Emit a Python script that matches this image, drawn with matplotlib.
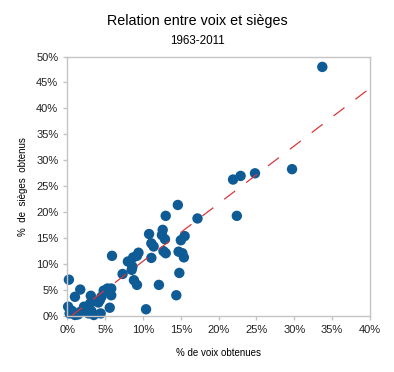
import numpy as np
import matplotlib.pyplot as plt
from matplotlib.ticker import MultipleLocator, FuncFormatter

plt.rcParams['font.family'] = ['Liberation Sans', 'DejaVu Sans']

# % of votes / % of seats
voix = [33.7, 29.7, 21.9, 22.9, 24.8, 22.4,
        14.6, 13.0, 17.2, 12.6, 12.5, 10.8, 11.1, 11.4, 12.9, 15.0, 15.5,
        11.1, 12.7, 13.0, 14.7, 15.2, 15.4, 14.8, 12.1, 14.4, 10.4,
        9.4, 9.2, 8.7, 8.3, 8.6, 8.0, 8.5, 7.3, 8.8, 9.2, 5.9,
        0.2, 1.7, 1.0, 3.1, 4.8, 5.3, 5.8, 5.8, 4.5, 4.3, 3.4, 4.1, 3.0,
        5.6, 4.4, 0.1, 0.3, 1.7, 2.8, 3.5, 1.0, 2.2, 2.5, 3.2, 0.6, 1.4]
sieges = [48.0, 28.3, 26.3, 27.0, 27.5, 19.3,
          21.4, 19.3, 18.8, 16.6, 15.6, 15.8, 14.0, 13.4, 14.8, 14.6, 15.4,
          11.2, 12.5, 12.1, 12.4, 12.1, 11.3, 8.3, 6.0, 4.0, 1.3,
          12.2, 11.6, 11.3, 10.5, 9.5, 10.5, 8.9, 8.1, 6.9, 6.0, 11.6,
          7.0, 5.1, 3.7, 3.9, 4.9, 5.3, 5.3, 4.0, 3.7, 3.1, 3.1, 2.6, 2.4,
          1.6, 0.5, 1.8, 0.5, 0.8, 0.5, 0.2, 0.2, 1.8, 1.2, 0.9, 1.0, 0.3]

# trend line end points
trend_x = [0.5, 40.0]
trend_y = [0.0, 43.9]

fig = plt.figure(figsize=(3.94, 3.72), dpi=100)
ax = fig.add_axes([0.171, 0.1505, 0.768, 0.6975])

ax.plot(trend_x, trend_y, color='#d9373b', linestyle=(0, (11, 11)),
        linewidth=0.9, zorder=3)
ax.scatter(voix, sieges, s=56, color='#0f5b96', edgecolors='none',
           zorder=2, clip_on=False)

ax.set_xlim(0, 40)
ax.set_ylim(0, 50)
ax.xaxis.set_major_locator(MultipleLocator(5))
ax.yaxis.set_major_locator(MultipleLocator(5))
pct = FuncFormatter(lambda v, p: '%d%%' % v)
ax.xaxis.set_major_formatter(pct)
ax.yaxis.set_major_formatter(pct)

for s in ax.spines.values():
    s.set_color('#c4c4c4')
    s.set_linewidth(1)
ax.tick_params(colors='#c4c4c4', labelcolor='#222222', labelsize=8,
               length=3, width=1)

ax.set_xlabel('% de voix obtenues', fontsize=7, labelpad=9)
ax.set_ylabel('%  de  sièges  obtenus', fontsize=7, labelpad=6)

fig.text(0.502, 0.944, 'Relation entre voix et sièges', ha='center',
         va='center', fontsize=10.3)
fig.text(0.502, 0.89, '1963-2011', ha='center', va='center', fontsize=8.4)

plt.savefig('out.png', dpi=100)
